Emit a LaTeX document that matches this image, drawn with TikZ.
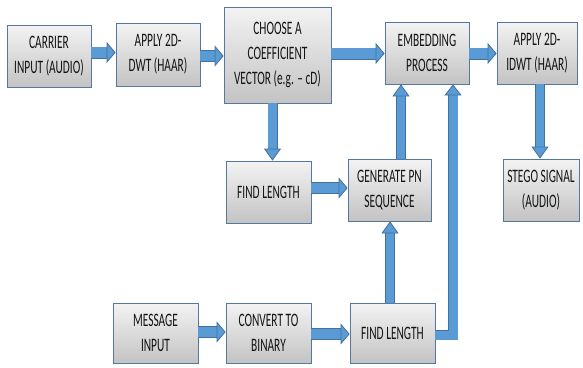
\documentclass[tikz,border=0pt]{standalone}
\usepackage{fontspec}
\setmainfont{Carlito}
\newfontfamily\boxfontfam[FakeStretch=0.6]{Carlito}
\usetikzlibrary{arrows.meta}
\definecolor{boxedge}{HTML}{56779F}
\definecolor{boxtop}{HTML}{F3F3F3}
\definecolor{boxbot}{HTML}{C3C3C3}
\definecolor{arrfill}{HTML}{5B9BD5}
\definecolor{arredge}{HTML}{41719C}
\tikzset{
  blk/.style={draw=boxedge, line width=0.8pt, top color=boxtop, bottom color=boxbot,
    align=center, inner sep=0pt, text=black!92,
    font=\boxfontfam\fontsize{19}{25}\selectfont},
  hfat/.style={line width=10.5pt, draw=arrfill, line join=miter,
    -{Triangle[width=21pt 0 0,length=9pt 0 0,fill=arrfill,color=arredge,line width'=0.8pt]},
    preaction={draw=arredge, line width=12pt, -, shorten >=8.5pt}},
  vfat/.style={line width=8.5pt, draw=arrfill, line join=miter,
    -{Triangle[width=17pt 0 0,length=12pt 0 0,fill=arrfill,color=arredge,line width'=0.8pt]},
    preaction={draw=arredge, line width=10pt, -, shorten >=11.5pt}},
  efat/.style={line width=9pt, draw=arrfill, line join=miter,
    -{Triangle[width=17pt 0 0,length=11pt 0 0,fill=arrfill,color=arredge,line width'=0.8pt]},
    preaction={draw=arredge, line width=10.5pt, -, line join=miter, shorten >=10.5pt}}
}
\begin{document}
\begin{tikzpicture}[x=1pt,y=-1pt]
\useasboundingbox[fill=white] (0,0) rectangle (583,367);
% boxes
\node[blk, minimum width=84pt, minimum height=62pt] (carrier) at (49,56) {CARRIER\\INPUT (AUDIO)};
\node[blk, minimum width=84pt, minimum height=63pt] (dwt) at (158,54.5) {APPLY 2D-\\DWT (HAAR)};
\node[blk, minimum width=107pt, minimum height=96pt] (choose) at (277.5,55) {CHOOSE A\\COEFFICIENT\\VECTOR (e.g. – cD)};
\node[blk, minimum width=84pt, minimum height=62pt] (embed) at (427,53) {EMBEDDING\\PROCESS};
\node[blk, minimum width=80pt, minimum height=62pt] (idwt) at (537,53) {APPLY 2D-\\IDWT (HAAR)};
\node[blk, minimum width=76pt, minimum height=62pt] (stego) at (541,190) {STEGO SIGNAL\\(AUDIO)};
\node[blk, minimum width=85pt, minimum height=62pt] (fl1) at (268.5,192) {FIND LENGTH};
\node[blk, minimum width=83pt, minimum height=62pt] (pn) at (389.5,190) {GENERATE PN\\SEQUENCE};
\node[blk, minimum width=85pt, minimum height=60pt] (msg) at (155.5,333) {MESSAGE\\INPUT};
\node[blk, minimum width=85pt, minimum height=60pt] (bin) at (268.5,333) {CONVERT TO\\BINARY};
\node[blk, minimum width=85pt, minimum height=60pt] (fl2) at (392.5,333) {FIND LENGTH};
% helper coordinates
\coordinate (cx) at (272.5,0);
\coordinate (pnx) at (401,0);
\coordinate (flx) at (390,0);
\coordinate (stx) at (540,0);
\coordinate (elb) at (453,335);
% connectors
\draw[hfat] (carrier.east |- 0,52.5) -- (dwt.west |- 0,52.5);
\draw[hfat] (dwt.east |- 0,56) -- (choose.west |- 0,56);
\draw[hfat] (choose.east |- 0,53.5) -- (embed.west |- 0,53.5);
\draw[hfat] (embed.east |- 0,53.5) -- (idwt.west |- 0,53.5);
\draw[vfat] (choose.south -| cx) -- (fl1.north -| cx);
\draw[hfat] (fl1.east |- 0,188) -- (pn.west |- 0,188);
\draw[vfat] (pn.north -| pnx) -- (embed.south -| pnx);
\draw[vfat] (fl2.north -| flx) -- (pn.south -| flx);
\draw[vfat] (idwt.south -| stx) -- (stego.north -| stx);
\draw[hfat] (msg.east |- 0,332) -- (bin.west |- 0,332);
\draw[hfat] (bin.east |- 0,334) -- (fl2.west |- 0,334);
\draw[efat] (fl2.east |- elb) -- (elb) -- (embed.south -| elb);
\end{tikzpicture}
\end{document}
